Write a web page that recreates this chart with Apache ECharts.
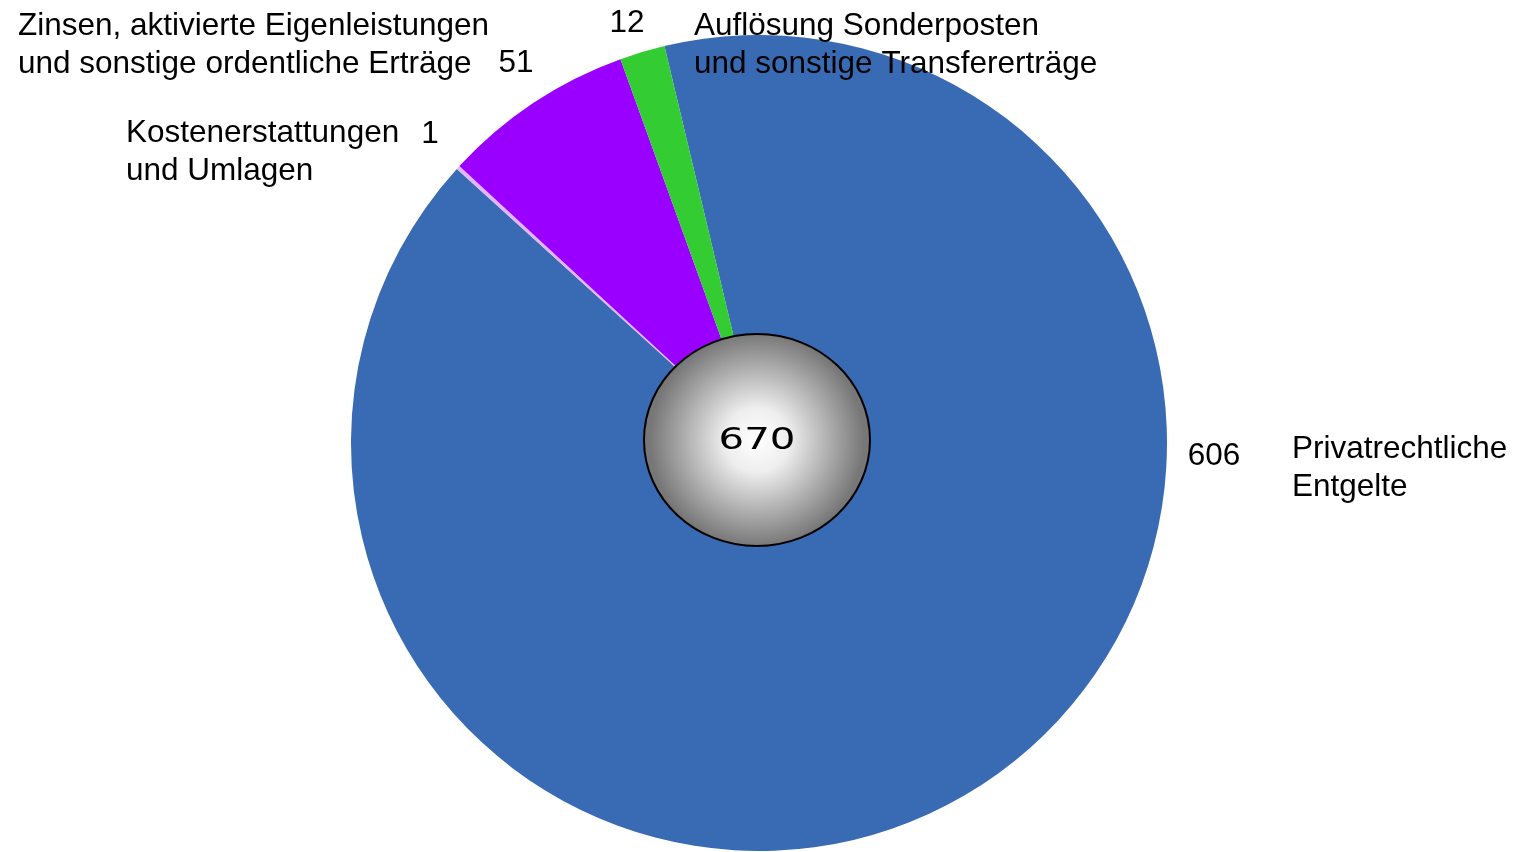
<!DOCTYPE html>
<html>
<head>
<meta charset="utf-8">
<script src="https://cdn.jsdelivr.net/npm/echarts@6/dist/echarts.min.js"></script>
<style>
html,body{margin:0;padding:0;background:#fff;}
#chart{width:1518px;height:852px;}
</style>
</head>
<body>
<div id="chart"></div>
<script>
// ---- data ----
var categories = [
  'Privatrechtliche\nEntgelte',
  'Kostenerstattungen\nund Umlagen',
  'Zinsen, aktivierte Eigenleistungen\nund sonstige ordentliche Erträge',
  'Auflösung Sonderposten\nund sonstige Transfererträge'
];
var values = [606, 1, 51, 12];
var colors = ['#396AB4', '#E3B5FF', '#9900FF', '#33CC33'];

// ---- layout (label placement, per slice) ----
var valuePos = [[1214, 456], [430, 134], [516, 63], [627, 23]];
var namePos  = [[1292, 430], [126, 114], [18, 7], [694, 7]];

var total = values.reduce(function (a, b) { return a + b; }, 0);
var FONT = '"Liberation Sans", Arial, sans-serif';

var data = categories.map(function (c, i) {
  return { name: c, value: values[i], itemStyle: { color: colors[i] } };
});

var chart = echarts.init(document.getElementById('chart'), null, { renderer: 'canvas' });
var CX = 759, CY = 443, R = 408;

chart.setOption({
  animation: false,
  backgroundColor: '#ffffff',
  series: [
    {
      type: 'pie',
      center: [CX, CY],
      radius: [0, R],
      startAngle: 103.4,
      clockwise: true,
      avoidLabelOverlap: false,
      silent: true,
      itemStyle: { borderWidth: 0 },
      label: {
        show: true,
        position: 'outside',
        formatter: '{c}',
        color: '#000',
        fontFamily: FONT,
        fontSize: 31.5
      },
      labelLine: { show: false },
      labelLayout: function (p) {
        var pos = valuePos[p.dataIndex];
        return { x: pos[0], y: pos[1], align: 'center', verticalAlign: 'middle' };
      },
      data: data
    },
    {
      type: 'pie',
      center: [CX, CY],
      radius: [0, R],
      startAngle: 103.4,
      clockwise: true,
      avoidLabelOverlap: false,
      silent: true,
      itemStyle: { color: 'rgba(0,0,0,0)', borderWidth: 0 },
      label: {
        show: true,
        position: 'outside',
        formatter: '{b}',
        color: '#000',
        fontFamily: FONT,
        fontSize: 31.5,
        lineHeight: 38
      },
      labelLine: { show: false },
      labelLayout: function (p) {
        var pos = namePos[p.dataIndex];
        return { x: pos[0], y: pos[1], align: 'left', verticalAlign: 'top' };
      },
      data: categories.map(function (c, i) {
        return { name: c, value: values[i], itemStyle: { color: 'rgba(0,0,0,0)' } };
      })
    }
  ],
  graphic: [
    {
      type: 'ellipse',
      silent: true,
      z: 100,
      shape: { cx: 757, cy: 440, rx: 113, ry: 106 },
      style: {
        fill: new echarts.graphic.RadialGradient(0.5, 0.5, 0.5, [
          { offset: 0, color: '#ffffff' },
          { offset: 0.3, color: '#eeeeee' },
          { offset: 1, color: '#777777' }
        ]),
        stroke: '#000',
        lineWidth: 2
      }
    },
    {
      type: 'text',
      silent: true,
      z: 101,
      x: 757,
      y: 441,
      scaleX: 1.3,
      style: {
        text: String(total),
        font: 'normal 31px "DejaVu Sans", sans-serif',
        fill: '#000',
        align: 'center',
        verticalAlign: 'middle'
      }
    }
  ]
});
</script>
</body>
</html>
